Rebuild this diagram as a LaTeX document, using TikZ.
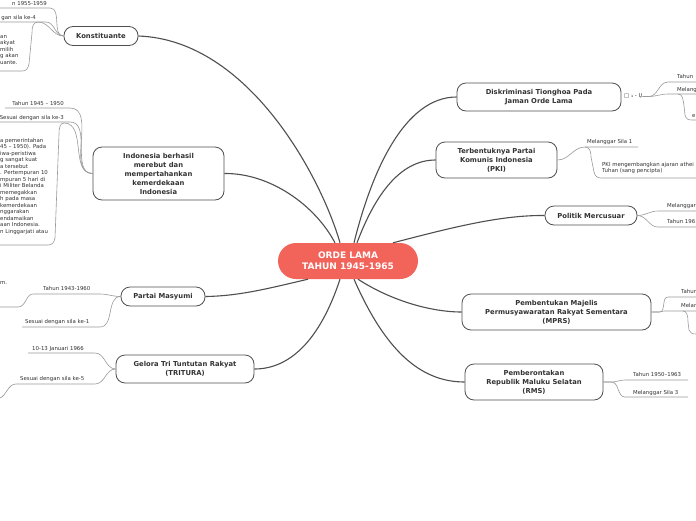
\documentclass[tikz,border=0pt]{standalone}
\usepackage{fontspec}
\setmainfont{DejaVu Sans}
\usetikzlibrary{calc,positioning}
\definecolor{rootred}{HTML}{F2635A}
\definecolor{branchgray}{HTML}{4F4F4F}
\definecolor{twiggray}{HTML}{9A9A9A}
\definecolor{inkgray}{HTML}{333333}

\begin{document}
\begin{tikzpicture}[x=1pt,y=-1pt,
  rootbox/.style={fill=rootred,text=white,rounded corners=18pt,minimum width=140pt,
    minimum height=36pt,font=\fontsize{9}{11}\selectfont\bfseries,align=center,inner sep=0pt},
  topic/.style={draw=branchgray,line width=0.8pt,fill=white,rounded corners=9pt,
    font=\fontsize{6.8}{9}\selectfont\bfseries,text=inkgray,align=center,inner sep=0pt},
  branch/.style={draw=branchgray,line width=1.1pt},
  twig/.style={draw=twiggray,line width=0.6pt},
  leaf/.style={font=\fontsize{5.4}{6.5}\selectfont,text=inkgray,inner sep=0pt},
]
  \fill[white] (0,0) rectangle (696,520);
  \useasboundingbox (0,0) rectangle (696,520);

  % centre and main topics
  \node[rootbox] (root) at (348,261) {ORDE LAMA\\TAHUN 1945-1965};
  \node[topic,minimum width=74pt,minimum height=19pt] (konst) at (101,36) {Konstituante};
  \node[topic,minimum width=131pt,minimum height=53pt] (merdeka) at (158.5,173.5)
    {Indonesia berhasil\\merebut dan\\mempertahankan\\kemerdekaan\\Indonesia};
  \node[topic,minimum width=84pt,minimum height=19pt] (masyumi) at (163,296.5) {Partai Masyumi};
  \node[topic,minimum width=138pt,minimum height=28pt] (tritura) at (185,369)
    {Gelora Tri Tuntutan Rakyat\\(TRITURA)};
  \node[topic,minimum width=164pt,minimum height=28pt] (tionghoa) at (539,97)
    {Diskriminasi Tionghoa Pada\\Jaman Orde Lama};
  \node[topic,minimum width=121pt,minimum height=36pt] (pki) at (496.5,160)
    {Terbentuknya Partai\\Komunis Indonesia\\(PKI)};
  \node[topic,minimum width=92pt,minimum height=19pt] (mercusuar) at (591,215.5) {Politik Mercusuar};
  \node[topic,minimum width=189pt,minimum height=36pt] (mprs) at (556.5,312)
    {Pembentukan Majelis\\Permusyawaratan Rakyat Sementara\\(MPRS)};
  \node[topic,minimum width=138pt,minimum height=36pt] (rms) at (534,382)
    {Pemberontakan\\Republik Maluku Selatan\\(RMS)};

  % branches
  \draw[branch] ([xshift=-8pt]root.north) .. controls (322,180) and (250,40) .. (konst.east);
  \draw[branch] ([xshift=-13pt]root.north) .. controls (315,205) and (270,173) .. (merdeka.east);
  \draw[branch] ([xshift=6pt]root.north) .. controls (372,170) and (405,97) .. (tionghoa.west);
  \draw[branch] ([xshift=9pt]root.north) .. controls (375,195) and (400,160) .. (pki.west);
  \draw[branch] ([xshift=45pt]root.north) .. controls (450,228) and (500,215) .. (mercusuar.west);
  \draw[branch] ([xshift=-40pt]root.south) .. controls (270,288) and (240,296) .. (masyumi.east);
  \draw[branch] ([xshift=-8pt]root.south) .. controls (320,340) and (290,369) .. (tritura.east);
  \draw[branch] ([xshift=10pt]root.south) .. controls (390,300) and (430,312) .. (mprs.west);
  \draw[branch] ([xshift=6pt]root.south) .. controls (385,350) and (420,382) .. (rms.west);

  % Konstituante
  \node[leaf,anchor=base east] (konst1) at (47,5) {n 1955-1959};
  \node[leaf,anchor=base east] (konst2) at (36,19) {gan sila ke-4};
  \node[leaf,anchor=north west,align=left] (konst3) at (0,35) {an\\akyat\\milih\\g akan\\uante.};
  \draw[twig] (konst.west) to[out=180,in=0] ($(konst1.base east)+(3,3)$) -- +(-60,0);
  \draw[twig] (konst.west) to[out=180,in=0] ($(konst2.base east)+(10,3)$) -- +(-60,0);
  \draw[twig] (konst.west) to[out=180,in=0] (38,22) .. controls (33,22) and (32,27) .. (32,33)
    -- (29,64) .. controls (28,69) and (26,71) .. (22,71) -- (0,71);

  % Indonesia berhasil
  \node[leaf,anchor=base east] (merdeka1) at (64,105) {Tahun 1945 – 1950};
  \node[leaf,anchor=base east] (merdeka2) at (64,119) {Sesuai dengan sila ke-3};
  \node[leaf,anchor=north west,align=left] (merdeka3) at (0,138) {a pemerintahan\\45 – 1950). Pada\\
    iwa-peristiwa\\g sangat kuat\\a tersebut\\. Pertempuran 10\\mpuran 5 hari di\\i Militer Belanda\\
    memegakkan\\h pada masa\\kemerdekaan\\nggarakan\\endamaikan\\aan Indonesia.\\n Linggarjati atau};
  \draw[twig] (merdeka.west) to[out=180,in=0] ($(merdeka1.base east)+(6,3)$) -- +(-65,0);
  \draw[twig] (merdeka.west) to[out=180,in=0] ($(merdeka2.base east)+(6,3)$) -- +(-70,0);
  \draw[twig] (merdeka.west) to[out=180,in=0] (64,123) .. controls (60,123) and (59,128) .. (59,134)
    -- (55,238) .. controls (54,243) and (52,245) .. (48,245) -- (0,245);

  % Partai Masyumi
  \node[leaf,anchor=base west] (masyumi0) at (0,284) {m.};
  \node[leaf,anchor=base west] (masyumi1) at (43,290) {Tahun 1943-1960};
  \node[leaf,anchor=base west] (masyumi2) at (25,323) {Sesuai dengan sila ke-1};
  \draw[twig] (masyumi.west) to[out=180,in=0] (100,294) -- (33,294);
  \draw[twig] (33,294) .. controls (26,294) and (26,307) .. (18,307) -- (0,307);
  \draw[twig] (masyumi.west) to[out=180,in=0] (100,327) -- (22,327);

  % Gelora TRITURA
  \node[leaf,anchor=base west] (tritura1) at (32,350) {10-13 Januari 1966};
  \node[leaf,anchor=base west] (tritura2) at (20,380) {Sesuai dengan sila ke-5};
  \coordinate (tritura3) at (0,398);
  \draw[twig] (tritura.west) to[out=180,in=0] (95,353) -- (28,353);
  \draw[twig] (tritura.west) to[out=180,in=0] (95,384) -- (16,384)
    .. controls (8,384) and (6,396) .. (tritura3);

  % Diskriminasi Tionghoa
  \node[leaf,anchor=west] (tionghoa0) at (624,96.5) {□ ₁ - Ụ};
  \node[leaf,anchor=base west] (tionghoa1) at (677,78) {Tahun};
  \node[leaf,anchor=base west] (tionghoa2) at (677,91) {Melangg};
  \node[leaf,anchor=base west] (tionghoa3) at (692,117) {e};
  \draw[twig] (tionghoa0.east) -- +(6,0) to[out=0,in=180] (668,82) -- (696,82);
  \draw[twig] (tionghoa0.east) -- +(6,0) to[out=0,in=180] (668,94) -- (696,94);
  \draw[twig] (678,94) .. controls (683,94) and (683,100) .. (684,106) -- (685,115)
    .. controls (686,119) and (688,120) .. (692,120) -- (696,120);

  % PKI
  \node[leaf,anchor=base west] (pki1) at (587,143) {Melanggar Sila 1};
  \node[leaf,anchor=north west,align=left] (pki2) at (602,162)
    {PKI mengembangkan ajaran athei\\Tuhan (sang pencipta)};
  \draw[twig] (pki.east) to[out=0,in=180] (585,147) -- (638,147);
  \draw[twig] (585,147) .. controls (590,147) and (591,152) .. (591,157) -- (594,172)
    .. controls (595,176) and (597,178) .. (601,178) -- (696,178);

  % Politik Mercusuar
  \node[leaf,anchor=base west] (mercusuar1) at (667,207) {Melanggar};
  \node[leaf,anchor=base west] (mercusuar2) at (667,223) {Tahun 196};
  \draw[twig] (mercusuar.east) to[out=0,in=180] (658,211) -- (696,211);
  \draw[twig] (mercusuar.east) to[out=0,in=180] (658,227) -- (696,227);

  % MPRS
  \node[leaf,anchor=base west] (mprs1) at (681,293) {Tahun};
  \node[leaf,anchor=base west] (mprs2) at (681,307) {Melan};
  \draw[twig] (mprs.east) -- +(8,0) to[out=0,in=180] (668,297) -- (696,297);
  \draw[twig] (mprs.east) -- +(8,0) to[out=0,in=180] (664,311) -- (696,311);
  \draw[twig] (683,311) .. controls (687,311) and (688,316) .. (688,322) -- (689,330)
    .. controls (690,333) and (692,334) .. (696,334);

  % RMS
  \node[leaf,anchor=base west] (rms1) at (633,376) {Tahun 1950–1963};
  \node[leaf,anchor=base west] (rms2) at (633,394) {Melanggar Sila 3};
  \draw[twig] (rms.east) -- +(8,0) to[out=0,in=180] (625,380) -- (688,380);
  \draw[twig] (rms.east) -- +(8,0) to[out=0,in=180] (625,397) -- (688,397);
\end{tikzpicture}
\end{document}
